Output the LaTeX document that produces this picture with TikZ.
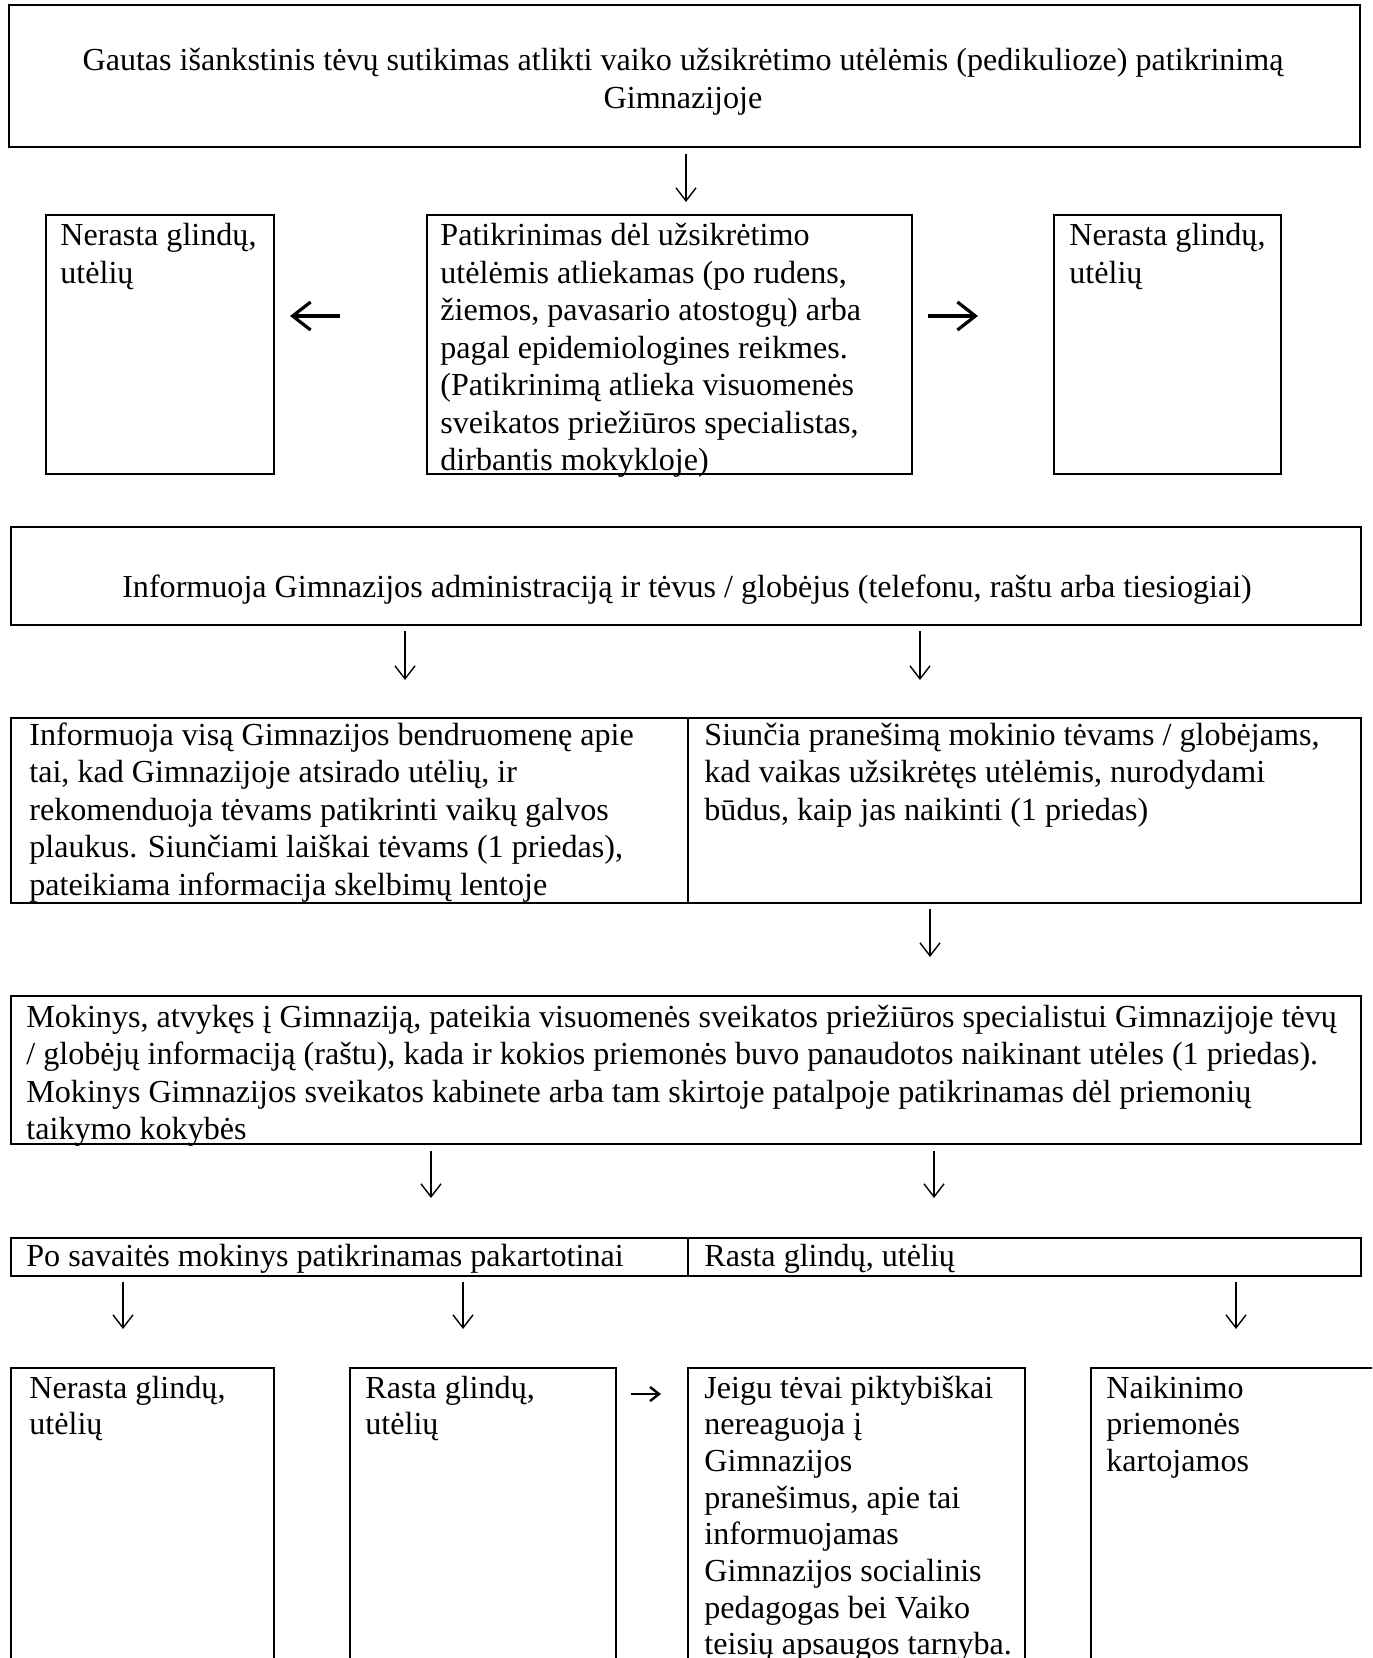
\documentclass[tikz,border=0pt]{standalone}
\usepackage{fontspec}
\setmainfont{Liberation Serif}
\usetikzlibrary{arrows.meta}
\newcommand\lft[1]{\vtop{\halign{##\hfil\cr#1\crcr}}}
\newcommand\ctr[1]{\vtop{\halign{\hfil##\hfil\cr#1\crcr}}}
\begin{document}
\begin{tikzpicture}[x=0.5pt,y=-0.5pt,
  box/.style={draw,line width=1pt,inner sep=0pt},
  txt/.style={anchor=base west,inner sep=0pt,font=\fontsize{16.05}{18.75}\selectfont},
  ctxt/.style={anchor=base,inner sep=0pt,font=\fontsize{16.05}{18.75}\selectfont},
  btxt/.style={txt,font=\fontsize{16.05}{18.35}\selectfont},
  arr/.style={line width=0.7pt,-{Straight Barb[length=6.5pt,width=10pt]}},
  harr/.style={line width=1.6pt,-{Straight Barb[length=9pt,width=14pt]}},
  sarr/.style={line width=1.2pt,-{Straight Barb[length=4.5pt,width=7pt]}}]
\useasboundingbox (0,0) rectangle (1372,1658);
\clip (0,0) rectangle (1372,1658);
\fill[white] (0,0) rectangle (1372,1658);
% boxes
\node[box,minimum width=675.5pt,minimum height=71pt] (top) at (684.5,76) {};
\node[box,minimum width=114pt,minimum height=129.5pt] (lb) at (160,344.5) {};
\node[box,minimum width=242.5pt,minimum height=129.5pt] (cb) at (669.5,344.5) {};
\node[box,minimum width=113.5pt,minimum height=129.5pt] (rb) at (1167.5,344.5) {};
\node[box,minimum width=675pt,minimum height=49pt] (info) at (686,576) {};
\node[box,minimum width=338.5pt,minimum height=92.5pt] (c1) at (349.5,810.5) {};
\node[box,minimum width=336.5pt,minimum height=92.5pt] (c2) at (1024.5,810.5) {};
\node[box,minimum width=675pt,minimum height=74pt] (mok) at (686,1070) {};
\node[box,minimum width=338.5pt,minimum height=19pt] (r1) at (349.5,1257) {};
\node[box,minimum width=336.5pt,minimum height=19pt] (r2) at (1024.5,1257) {};
\node[box,minimum width=131.5pt,minimum height=166pt] (b1) at (142.5,1534) {};
\node[box,minimum width=133pt,minimum height=166pt] (b2) at (483,1534) {};
\node[box,minimum width=168.5pt,minimum height=166pt] (b3) at (856.5,1534) {};
\node[box,minimum width=164.5pt,minimum height=166pt] (b4) at (1255.5,1534) {};
% texts
\node[ctxt,font=\fontsize{16.05}{19}\selectfont] (ttop) at (683,71) {\ctr{Gautas išankstinis tėvų sutikimas atlikti vaiko užsikrėtimo utėlėmis (pedikulioze) patikrinimą\cr Gimnazijoje}};
\node[txt] (tlb) at (60,246) {\lft{Nerasta glindų,\cr utėlių}};
\node[txt] (tcb) at (440,246) {\lft{Patikrinimas dėl užsikrėtimo\cr utėlėmis atliekamas (po rudens,\cr žiemos, pavasario atostogų) arba\cr pagal epidemiologines reikmes.\cr (Patikrinimą atlieka visuomenės\cr sveikatos priežiūros specialistas,\cr dirbantis mokykloje)}};
\node[txt] (trb) at (1069,246) {\lft{Nerasta glindų,\cr utėlių}};
\node[ctxt] (tinfo) at (687,597) {Informuoja Gimnazijos administraciją ir tėvus / globėjus (telefonu, raštu arba tiesiogiai)};
\node[txt] (tc1) at (29,745) {\lft{Informuoja visą Gimnazijos bendruomenę apie\cr tai, kad Gimnazijoje atsirado utėlių, ir\cr rekomenduoja tėvams patikrinti vaikų galvos\cr plaukus. Siunčiami laiškai tėvams (1 priedas),\cr pateikiama informacija skelbimų lentoje}};
\node[txt] (tc2) at (704,745) {\lft{Siunčia pranešimą mokinio tėvams / globėjams,\cr kad vaikas užsikrėtęs utėlėmis, nurodydami\cr būdus, kaip jas naikinti (1 priedas)}};
\node[txt] (tmok) at (26,1027) {\lft{Mokinys, atvykęs į Gimnaziją, pateikia visuomenės sveikatos priežiūros specialistui Gimnazijoje tėvų\cr / globėjų informaciją (raštu), kada ir kokios priemonės buvo panaudotos naikinant utėles (1 priedas).\cr Mokinys Gimnazijos sveikatos kabinete arba tam skirtoje patalpoje patikrinamas dėl priemonių\cr taikymo kokybės}};
\node[txt] (tr1) at (26,1266) {Po savaitės mokinys patikrinamas pakartotinai};
\node[txt] (tr2) at (704,1266) {Rasta glindų, utėlių};
\node[btxt] (tb1) at (29,1398) {\lft{Nerasta glindų,\cr utėlių}};
\node[btxt] (tb2) at (365,1398) {\lft{Rasta glindų,\cr utėlių}};
\node[btxt] (tb3) at (704,1398) {\lft{Jeigu tėvai piktybiškai\cr nereaguoja į\cr Gimnazijos\cr pranešimus, apie tai\cr informuojamas\cr Gimnazijos socialinis\cr pedagogas bei Vaiko\cr teisių apsaugos tarnyba.}};
\node[btxt] (tb4) at (1106,1398) {\lft{Naikinimo\cr priemonės\cr kartojamos}};
% arrow end points
\coordinate (a1s) at (686,154); \coordinate (a1e) at (686,202);
\coordinate (hls) at (340,316); \coordinate (hle) at (290,316);
\coordinate (hrs) at (928,316); \coordinate (hre) at (978,316);
\coordinate (a2s) at (405,631); \coordinate (a2e) at (405,680);
\coordinate (a3s) at (920,631); \coordinate (a3e) at (920,680);
\coordinate (a4s) at (930,909); \coordinate (a4e) at (930,957);
\coordinate (a5s) at (431,1151); \coordinate (a5e) at (431,1198);
\coordinate (a6s) at (934,1151); \coordinate (a6e) at (934,1198);
\coordinate (a7s) at (123,1282); \coordinate (a7e) at (123,1329);
\coordinate (a8s) at (463,1282); \coordinate (a8e) at (463,1329);
\coordinate (a9s) at (1236,1282); \coordinate (a9e) at (1236,1329);
\coordinate (ss) at (631,1394); \coordinate (se) at (661,1394);
\foreach \n in {1,...,9} {\draw[arr] (a\n s) -- (a\n e);}
\draw[harr] (hls) -- (hle);
\draw[harr] (hrs) -- (hre);
\draw[sarr] (ss) -- (se);
\end{tikzpicture}
\end{document}
